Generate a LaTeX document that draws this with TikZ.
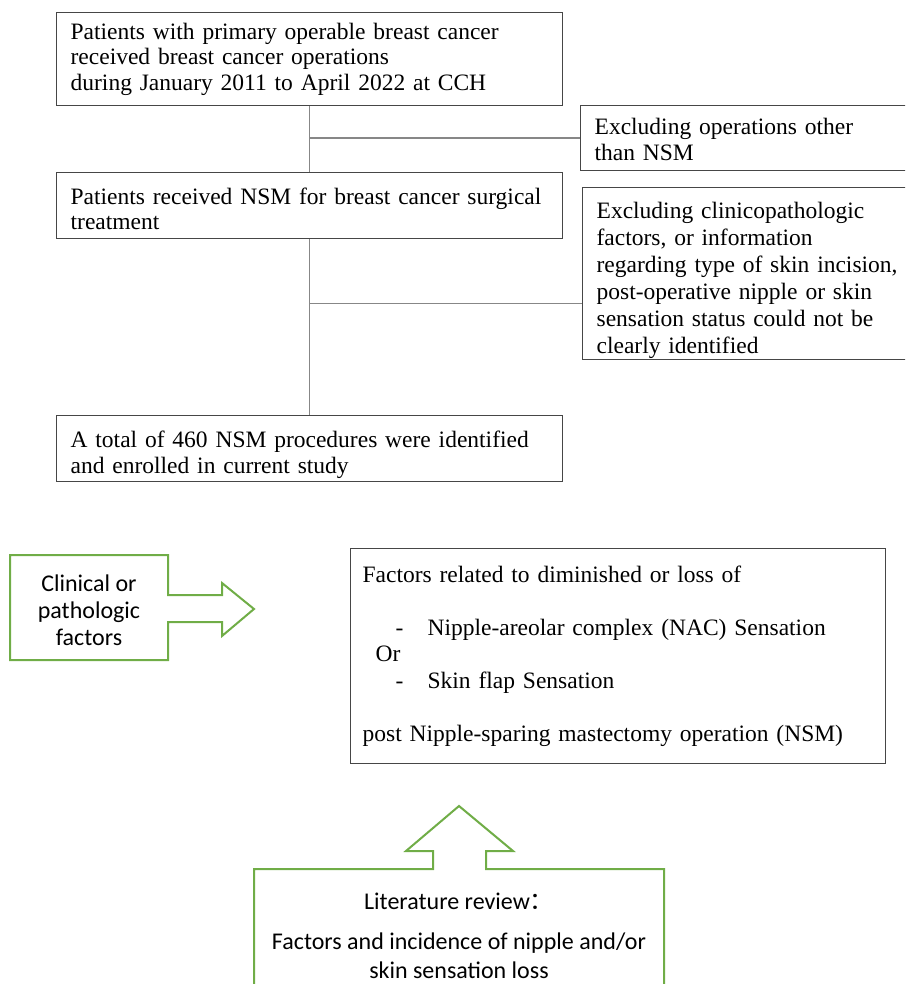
\documentclass[tikz,border=0pt]{standalone}
\usepackage{fontspec}
\setmainfont{Liberation Serif}
\newfontfamily\calib{Carlito}
\newfontfamily\cjk{Noto Sans CJK SC}
\definecolor{boxgreen}{RGB}{112,173,71}
\definecolor{boxline}{RGB}{70,70,70}
\definecolor{linkline}{RGB}{135,135,135}
\newcommand{\topgap}[1]{\rule{0pt}{#1pt}}
\tikzset{
  fbox/.style={draw=boxline, line width=1.3pt, anchor=north west, inner xsep=14pt, inner ysep=0pt,
    align=left, font=\fontsize{23.5}{25.5}\selectfont},
  link/.style={draw=linkline, line width=1.3pt},
  garrow/.style={draw=boxgreen, line width=2pt, line join=miter},
  gtext/.style={align=center, font=\calib\fontsize{24}{27}\selectfont}
}

\begin{document}
\begin{tikzpicture}[x=1pt,y=-1pt]
\clip (0,0) rectangle (905,984);

% Drawing box of operated patients
\node[fbox, minimum width=506pt, minimum height=93pt, text width=478pt] (elig) at (56,12)
  {Patients with primary operable breast cancer\\received breast cancer operations\\during January 2011 to April 2022 at CCH};

% Drawing box of NSM patients
\node[fbox, minimum width=506pt, minimum height=66pt, text width=478pt] (nsm) at (56,172)
  {\topgap{22.5}Patients received NSM for breast cancer surgical\\treatment};

% Drawing box of enrolled procedures
\node[fbox, minimum width=506pt, minimum height=66pt, text width=478pt] (total) at (56,415)
  {\topgap{28.5}A total of 460 NSM procedures were identified\\and enrolled in current study};

% Drawing exclusion boxes
\node[fbox, minimum width=350pt, minimum height=65pt, text width=322pt, font=\fontsize{23.5}{26}\selectfont] (exop) at (580,105)
  {\topgap{19.5}Excluding operations other\\than NSM};
\node[fbox, minimum width=350pt, minimum height=172pt, text width=322pt, font=\fontsize{23.5}{27}\selectfont] (exinfo) at (582,187)
  {\topgap{30.5}Excluding clinicopathologic\\factors, or information\\regarding type of skin incision,\\post-operative nipple or skin\\sensation status could not be\\clearly identified};
\coordinate (exin) at ([yshift=-30pt]exinfo.west);

% Drawing trunk line and branches
\draw[link] (elig.south) -- (nsm.north);
\draw[link] (nsm.south) -- (total.north);
\draw[link] (elig.south |- exop.west) -- (exop.west);
\draw[link] (nsm.south |- exin) -- (exin);

% Drawing box of studied factors
\node[fbox, inner xsep=12pt, minimum width=535pt, minimum height=215pt, text width=511pt, font=\fontsize{23.5}{26.5}\selectfont] (factors) at (350,548)
  {Factors related to diminished or loss of\\[26.5pt]
   \hspace*{33pt}\makebox[32pt][l]{-}Nipple-areolar complex (NAC) Sensation\\
   \hspace*{13pt}Or\\
   \hspace*{33pt}\makebox[32pt][l]{-}Skin flap Sensation\\[26.5pt]
   post Nipple-sparing mastectomy operation (NSM)};

% Drawing right arrow callout
\draw[garrow] (10,555) -- (168,555) -- (168,595) -- (222,595) -- (222,583) -- (254,609)
  -- (222,636) -- (222,622) -- (168,622) -- (168,660) -- (10,660) -- cycle;
\node[gtext] (clin) at (89,610) {Clinical or\\pathologic\\factors};

% Drawing up arrow callout
\draw[garrow] (254,995) -- (254,869) -- (433,869) -- (433,851) -- (406,851) -- (459,806)
  -- (513,851) -- (486,851) -- (486,869) -- (664,869) -- (664,995);
\node[gtext, font=\calib\fontsize{24}{29}\selectfont] (lit) at (459,936)
  {Literature review{\cjk ：}\\[11pt]Factors and incidence of nipple and/or\\skin sensation loss};
\end{tikzpicture}
\end{document}
